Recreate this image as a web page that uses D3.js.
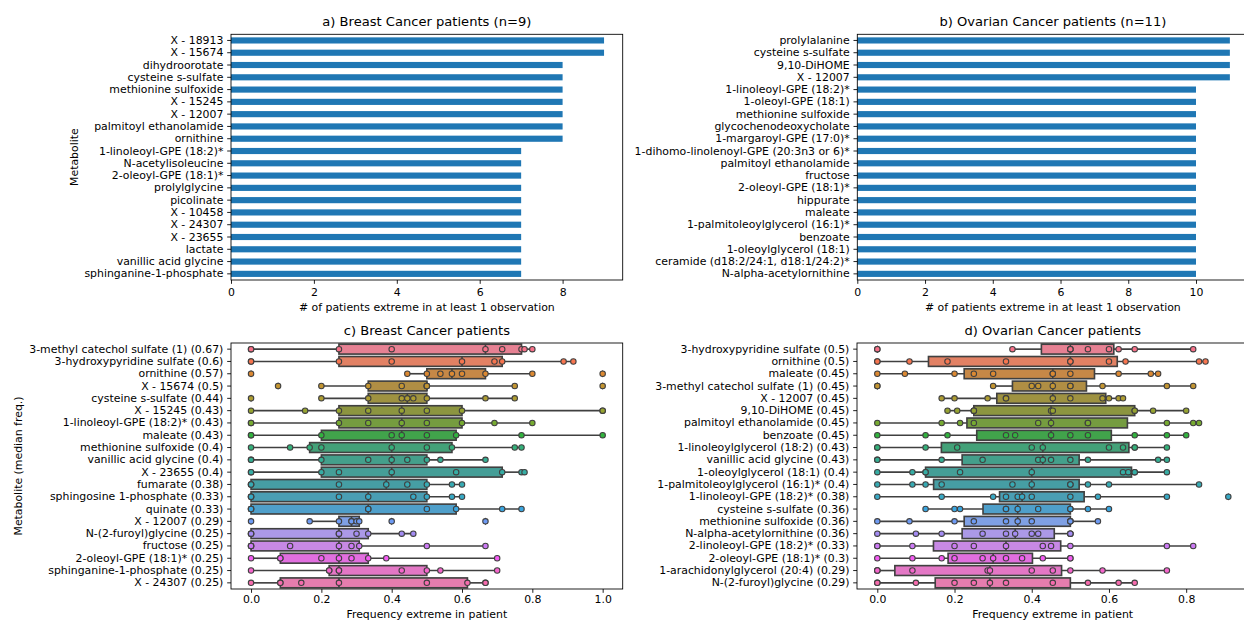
<!DOCTYPE html>
<html>
<head>
<meta charset="utf-8">
<script src="https://cdn.jsdelivr.net/npm/d3@7"></script>
<style>
  body { margin: 0; background: #fff; }
  svg { display: block; }
  text { font-family: "DejaVu Sans", sans-serif; fill: #000; }
</style>
</head>
<body>
<svg id="fig" width="1244" height="623"></svg>
<script>
// ---------------- data ----------------
// a) breast cancer: number of patients extreme in at least one observation
const breastTopNames = [
  "X - 18913", "X - 15674", "dihydroorotate", "cysteine s-sulfate", "methionine sulfoxide",
  "X - 15245", "X - 12007", "palmitoyl ethanolamide", "ornithine", "1-linoleoyl-GPE (18:2)*",
  "N-acetylisoleucine", "2-oleoyl-GPE (18:1)*", "prolylglycine", "picolinate", "X - 10458",
  "X - 24307", "X - 23655", "lactate", "vanillic acid glycine", "sphinganine-1-phosphate"
];
const breastTopCounts = [9, 9, 8, 8, 8, 8, 8, 8, 8, 7, 7, 7, 7, 7, 7, 7, 7, 7, 7, 7];

// b) ovarian cancer
const ovarianTopNames = [
  "prolylalanine", "cysteine s-sulfate", "9,10-DiHOME", "X - 12007", "1-linoleoyl-GPE (18:2)*",
  "1-oleoyl-GPE (18:1)", "methionine sulfoxide", "glycochenodeoxycholate", "1-margaroyl-GPE (17:0)*",
  "1-dihomo-linolenoyl-GPE (20:3n3 or 6)*", "palmitoyl ethanolamide", "fructose", "2-oleoyl-GPE (18:1)*",
  "hippurate", "maleate", "1-palmitoleoylglycerol (16:1)*", "benzoate", "1-oleoylglycerol (18:1)",
  "ceramide (d18:2/24:1, d18:1/24:2)*", "N-alpha-acetylornithine"
];
const ovarianTopCounts = [11, 11, 11, 11, 10, 10, 10, 10, 10, 10, 10, 10, 10, 10, 10, 10, 10, 10, 10, 10];

// c) breast cancer: per-patient frequency of extreme observations (9 patients)
const breastFreqNames = [
  "3-methyl catechol sulfate (1)", "3-hydroxypyridine sulfate", "ornithine", "X - 15674",
  "cysteine s-sulfate", "X - 15245", "1-linoleoyl-GPE (18:2)*", "maleate", "methionine sulfoxide",
  "vanillic acid glycine", "X - 23655", "fumarate", "sphingosine 1-phosphate", "quinate",
  "X - 12007", "N-(2-furoyl)glycine", "fructose", "2-oleoyl-GPE (18:1)*", "sphinganine-1-phosphate",
  "X - 24307"
];
const breastFreqValues = [
  [0, 0, 0.25, 0.4, 0.6667, 0.7143, 0.7692, 0.7778, 0.8],
  [0, 0, 0.25, 0.4, 0.6, 0.6923, 0.7143, 0.8889, 0.9167],
  [0, 0.4444, 0.5, 0.5385, 0.5714, 0.6, 0.6667, 0.8, 1],
  [0.0769, 0.2, 0.3333, 0.4286, 0.5, 0.5, 0.5, 0.75, 1],
  [0, 0.2, 0.3333, 0.4286, 0.4444, 0.4615, 0.5, 0.6667, 0.75],
  [0, 0.1538, 0.25, 0.3333, 0.4286, 0.5, 0.6, 1, 1],
  [0, 0, 0.25, 0.3333, 0.4286, 0.5, 0.6, 0.6923, 0.8],
  [0, 0, 0.2, 0.4, 0.4286, 0.5, 0.5833, 0.7692, 1],
  [0, 0.1111, 0.1667, 0.2, 0.4, 0.5, 0.5714, 0.75, 0.7692],
  [0, 0, 0.2, 0.3333, 0.4, 0.4444, 0.5, 0.5385, 0.6667],
  [0, 0, 0.2, 0.25, 0.4, 0.5833, 0.7143, 0.7692, 0.7778],
  [0, 0, 0, 0.25, 0.3846, 0.4444, 0.5, 0.5714, 0.6],
  [0, 0, 0, 0.25, 0.3333, 0.4615, 0.5, 0.5714, 0.6],
  [0, 0, 0, 0.3333, 0.3333, 0.5, 0.5833, 0.7143, 0.7692],
  [0, 0.1667, 0.25, 0.2857, 0.2857, 0.3, 0.3077, 0.4, 0.6667],
  [0, 0, 0, 0.25, 0.25, 0.3, 0.3333, 0.4286, 0.4615],
  [0, 0, 0, 0.1111, 0.25, 0.2857, 0.3077, 0.5, 0.6667],
  [0, 0.0833, 0.0833, 0.2, 0.25, 0.2857, 0.3333, 0.3846, 0.7],
  [0, 0.2222, 0.2222, 0.25, 0.25, 0.4286, 0.5, 0.5385, 0.7],
  [0, 0.0833, 0.0833, 0.1429, 0.25, 0.5, 0.6154, 0.6667, 0.6667]
];

// d) ovarian cancer (11 patients)
const ovarianFreqNames = [
  "3-hydroxypyridine sulfate", "ornithine", "maleate", "3-methyl catechol sulfate (1)", "X - 12007",
  "9,10-DiHOME", "palmitoyl ethanolamide", "benzoate", "1-linoleoylglycerol (18:2)",
  "vanillic acid glycine", "1-oleoylglycerol (18:1)", "1-palmitoleoylglycerol (16:1)*",
  "1-linoleoyl-GPE (18:2)*", "cysteine s-sulfate", "methionine sulfoxide", "N-alpha-acetylornithine",
  "2-linoleoyl-GPE (18:2)*", "2-oleoyl-GPE (18:1)*", "1-arachidonylglycerol (20:4)", "N-(2-furoyl)glycine"
];
const ovarianFreqValues = [
  [0, 0, 0.35, 0.5, 0.5, 0.5, 0.5455, 0.6, 0.625, 0.6667, 0.8182],
  [0, 0, 0.0833, 0.1818, 0.3333, 0.5, 0.5, 0.6, 0.6429, 0.8333, 0.85],
  [0, 0.0714, 0.2, 0.25, 0.3, 0.4545, 0.4545, 0.5, 0.625, 0.7083, 0.7273],
  [0, 0, 0.3, 0.4, 0.4167, 0.4545, 0.5, 0.5, 0.5833, 0.75, 0.8182],
  [0.1667, 0.2, 0.2857, 0.3333, 0.3333, 0.4545, 0.5, 0.5833, 0.6, 0.625, 0.6364],
  [0.1818, 0.2069, 0.25, 0.25, 0.25, 0.45, 0.4545, 0.6667, 0.6667, 0.7143, 0.8],
  [0, 0.1667, 0.2143, 0.25, 0.4167, 0.45, 0.5455, 0.5455, 0.75, 0.8182, 0.8333],
  [0, 0.125, 0.1818, 0.3333, 0.3571, 0.45, 0.5, 0.5455, 0.6667, 0.75, 0.8],
  [0, 0, 0.125, 0.2069, 0.4, 0.4286, 0.6, 0.6364, 0.6667, 0.6667, 0.75],
  [0, 0, 0.1667, 0.2727, 0.4167, 0.4286, 0.45, 0.5, 0.5455, 0.7273, 0.75],
  [0, 0.0909, 0.125, 0.125, 0.2143, 0.4, 0.6364, 0.65, 0.6667, 0.6667, 0.75],
  [0, 0.0909, 0.125, 0.1667, 0.35, 0.4, 0.5, 0.5, 0.5455, 0.6, 0.8333],
  [0, 0.1667, 0.3, 0.3333, 0.3636, 0.375, 0.4, 0.5, 0.5714, 0.75, 0.9091],
  [0.125, 0.2, 0.2143, 0.3333, 0.3333, 0.3636, 0.4167, 0.5, 0.5, 0.5455, 0.6],
  [0, 0.0833, 0.2, 0.25, 0.3333, 0.3636, 0.4, 0.5, 0.5, 0.5, 0.5714],
  [0, 0.1, 0.1667, 0.2727, 0.3333, 0.3571, 0.4, 0.4167, 0.5, 0.5, 0.5],
  [0, 0, 0.0909, 0.2, 0.25, 0.3333, 0.4286, 0.45, 0.5, 0.75, 0.8182],
  [0, 0.0909, 0.1667, 0.2, 0.2727, 0.3, 0.3333, 0.375, 0.4286, 0.5, 0.5],
  [0, 0, 0, 0.0909, 0.2857, 0.2917, 0.4, 0.4545, 0.5, 0.5833, 0.75],
  [0, 0, 0.1, 0.2, 0.25, 0.2917, 0.3333, 0.4545, 0.5455, 0.625, 0.6667]
];

const countTicksA = [0, 2, 4, 6, 8];
const countTicksB = [0, 2, 4, 6, 8, 10];
const freqTicksC = [0, 0.2, 0.4, 0.6, 0.8, 1.0];
const freqTicksD = [0, 0.2, 0.4, 0.6, 0.8];

const titles = [
  "a) Breast Cancer patients (n=9)", "b) Ovarian Cancer patients (n=11)",
  "c) Breast Cancer patients", "d) Ovarian Cancer patients"
];
const countLabel = "# of patients extreme in at least 1 observation";
const freqLabel = "Frequency extreme in patient";

// ---------------- colours (husl palette, as seaborn builds it) ----------------
const M = [[3.2406, -1.5372, -0.4986], [-0.9689, 1.8758, 0.0415], [0.0557, -0.2040, 1.0570]];
const refU = 0.19784, refV = 0.46834, labE = 0.008856, labK = 903.3;

function maxChroma(L, H) {
  const hr = H * Math.PI / 180, sinH = Math.sin(hr), cosH = Math.cos(hr);
  const sub1 = Math.pow(L + 16, 3) / 1560896;
  const sub2 = sub1 > labE ? sub1 : L / labK;
  let result = Infinity;
  for (const [m1, m2, m3] of M) {
    const top = (0.99915 * m1 + 1.05122 * m2 + 1.14460 * m3) * sub2;
    const rb = 0.86330 * m3 - 0.17266 * m2;
    const lb = 0.12949 * m3 - 0.38848 * m1;
    const bottom = (rb * sinH + lb * cosH) * sub2;
    for (const t of [0, 1]) {
      const C = L * (top - 1.05122 * t) / (bottom + 0.17266 * sinH * t);
      if (C > 0 && C < result) result = C;
    }
  }
  return result;
}

function huslToRgb(H, S, L) {
  const C = maxChroma(L, H) / 100 * S;
  const hr = H * Math.PI / 180;
  const U = Math.cos(hr) * C, V = Math.sin(hr) * C;
  const t = (L + 16) / 116;
  const Y = t * t * t > labE ? t * t * t : (116 * t - 16) / labK;
  const vu = U / (13 * L) + refU, vv = V / (13 * L) + refV;
  const X = -(9 * Y * vu) / ((vu - 4) * vv - vu * vv);
  const Z = (9 * Y - 15 * vv * Y - vv * X) / (3 * vv);
  return M.map(r => r[0] * X + r[1] * Y + r[2] * Z)
    .map(c => c <= 0.0031308 ? 12.92 * c : 1.055 * Math.pow(c, 1 / 2.4) - 0.055)
    .map(c => Math.min(1, Math.max(0, c)));
}

function huslPalette(n, h = 0.01, s = 0.9, l = 0.65) {
  return d3.range(n).map(i => {
    const hue = ((i / n + h) % 1) * 359;
    const [r, g, b] = huslToRgb(hue, s * 99, l * 99);
    return d3.rgb(r * 255, g * 255, b * 255);
  });
}

function desaturate(c, prop) {
  const h = d3.hsl(c);
  h.s *= prop;
  return d3.rgb(h);
}

function frameGray(cols) {
  const lum = d3.min(cols, c => (Math.max(c.r, c.g, c.b) + Math.min(c.r, c.g, c.b)) / 2 / 255) * 0.6;
  const v = Math.round(lum * 255);
  return d3.rgb(v, v, v).formatHex();
}

// ---------------- layout ----------------
const PT = 1.09;               // pixels per point
const FS = 10 * PT;            // tick / axis label size
const FS_TITLE = 12 * PT;
const TICK = 3.5 * PT;

const svg = d3.select("#fig");
svg.append("rect").attr("width", 1244).attr("height", 623).attr("fill", "#fff");

const boxes = {
  a: { left: 231, right: 622.7, top: 34.3, bottom: 280, xlim: [0, 9.45] },
  b: { left: 857.3, right: 1248.5, top: 34.3, bottom: 280, xlim: [0, 11.55] },
  c: { left: 231, right: 622.7, top: 343, bottom: 589, xlim: [-0.057, 1.057] },
  d: { left: 857, right: 1248.5, top: 343, bottom: 589, xlim: [-0.0526, 0.9614] }
};

function fmtMedian(m) { return String(+m.toFixed(2)); }

function styleAxis(g) {
  g.select(".domain").remove();
  g.selectAll(".tick line").attr("stroke", "#000").attr("stroke-width", 0.8 * PT);
  g.selectAll(".tick text").attr("font-size", FS).attr("font-family", "DejaVu Sans").attr("fill", "#000");
}

function drawPanel(p, names, title, xTicks, xFmt, xLabel, yLabel, tickDy, labelDy) {
  const x = d3.scaleLinear().domain(p.xlim).range([p.left, p.right]);
  const y = d3.scaleBand().domain(names).range([p.top, p.bottom]).paddingInner(0).paddingOuter(0);
  const g = svg.append("g");

  const marks = g.append("g");

  const gx = g.append("g").attr("transform", `translate(0,${p.bottom})`)
    .call(d3.axisBottom(x).tickValues(xTicks).tickFormat(xFmt).tickSize(TICK).tickPadding(TICK).tickSizeOuter(0));
  styleAxis(gx);
  gx.selectAll(".tick text").attr("dy", null).attr("y", tickDy);

  const gy = g.append("g").attr("transform", `translate(${p.left},0)`)
    .call(d3.axisLeft(y).tickSize(TICK).tickPadding(TICK).tickSizeOuter(0));
  styleAxis(gy);

  // spines
  g.append("rect")
    .attr("x", p.left).attr("y", p.top)
    .attr("width", p.right - p.left).attr("height", p.bottom - p.top)
    .attr("fill", "none").attr("stroke", "#000").attr("stroke-width", 0.8 * PT);

  g.append("text")
    .attr("x", (p.left + p.right) / 2).attr("y", p.top - 8.5)
    .attr("text-anchor", "middle").attr("font-size", FS_TITLE).text(title);

  g.append("text")
    .attr("x", (p.left + p.right) / 2).attr("y", p.bottom + labelDy)
    .attr("text-anchor", "middle").attr("font-size", FS).text(xLabel);

  if (yLabel) {
    let minX = 0;
    gy.selectAll(".tick text").each(function () {
      const b = this.getBBox();
      minX = Math.min(minX, b.x);
    });
    const lx = p.left + minX - 4 * PT - 2.5;
    const ly = (p.top + p.bottom) / 2;
    g.append("text")
      .attr("transform", `translate(${lx},${ly}) rotate(-90)`)
      .attr("text-anchor", "middle").attr("font-size", FS).text(yLabel);
  }
  return { x, y, marks };
}

// ---------------- bar panels ----------------
function drawBars(p, names, counts, title, ticks, yLabel) {
  const { x, y, marks } = drawPanel(p, names, title, ticks, d3.format("d"), countLabel, yLabel, 15.5, 31);
  const bh = y.bandwidth() * 0.5;
  marks.selectAll("rect").data(names).join("rect")
    .attr("x", x(0))
    .attr("y", d => y(d) + (y.bandwidth() - bh) / 2)
    .attr("width", (d, i) => x(counts[i]) - x(0))
    .attr("height", bh)
    .attr("fill", "#1f77b4");
}

drawBars(boxes.a, breastTopNames, breastTopCounts, titles[0], countTicksA, "Metabolite");
drawBars(boxes.b, ovarianTopNames, ovarianTopCounts, titles[1], countTicksB, null);

// ---------------- box + strip panels ----------------
function boxStats(vals) {
  const s = vals.slice().sort(d3.ascending);
  const q1 = d3.quantileSorted(s, 0.25), med = d3.quantileSorted(s, 0.5), q3 = d3.quantileSorted(s, 0.75);
  const iqr = q3 - q1;
  const lo = q1 - 1.5 * iqr, hi = q3 + 1.5 * iqr;
  const inside = s.filter(v => v >= lo && v <= hi);
  return {
    q1, med, q3,
    wlo: d3.min(inside), whi: d3.max(inside),
    fliers: s.filter(v => v < lo || v > hi)
  };
}

function drawBoxes(p, names, values, title, ticks, yLabel) {
  const stats = values.map(boxStats);
  const labels = names.map((n, i) => `${n} (${fmtMedian(stats[i].med)})`);
  const { x, y, marks } = drawPanel(p, labels, title, ticks, d3.format(".1f"), freqLabel, yLabel, 13.5, 29);

  const pal = huslPalette(names.length);
  const boxCols = pal.map(c => desaturate(c, 0.75));
  const grayBox = frameGray(boxCols);
  const grayPts = frameGray(pal);
  const bw = y.bandwidth();
  const cy = l => y(l) + bw / 2;
  const lw = 1.5 * PT;
  const fl = 2.5 * PT;

  const rows = marks.selectAll("g.row").data(labels).join("g").attr("class", "row");

  rows.each(function (lab, i) {
    const r = d3.select(this);
    const st = stats[i];
    const c = cy(lab);
    // whiskers
    r.append("line").attr("x1", x(st.wlo)).attr("x2", x(st.q1)).attr("y1", c).attr("y2", c)
      .attr("stroke", grayBox).attr("stroke-width", lw);
    r.append("line").attr("x1", x(st.q3)).attr("x2", x(st.whi)).attr("y1", c).attr("y2", c)
      .attr("stroke", grayBox).attr("stroke-width", lw);
    // caps
    [st.wlo, st.whi].forEach(v => {
      r.append("line").attr("x1", x(v)).attr("x2", x(v))
        .attr("y1", c - bw * 0.2).attr("y2", c + bw * 0.2)
        .attr("stroke", grayBox).attr("stroke-width", lw);
    });
    // box
    r.append("rect")
      .attr("x", x(st.q1)).attr("y", c - bw * 0.4)
      .attr("width", Math.max(0, x(st.q3) - x(st.q1))).attr("height", bw * 0.8)
      .attr("fill", boxCols[i].formatHex()).attr("stroke", grayBox).attr("stroke-width", lw);
    // median
    r.append("line").attr("x1", x(st.med)).attr("x2", x(st.med))
      .attr("y1", c - bw * 0.4).attr("y2", c + bw * 0.4)
      .attr("stroke", grayBox).attr("stroke-width", lw);
    // fliers (thin diamonds)
    r.selectAll("path.flier").data(st.fliers).join("path").attr("class", "flier")
      .attr("d", v => `M${x(v)},${c - fl}L${x(v) + fl * 0.6},${c}L${x(v)},${c + fl}L${x(v) - fl * 0.6},${c}Z`)
      .attr("fill", grayBox).attr("stroke", grayBox).attr("stroke-width", PT);
  });

  // strip points on top
  rows.each(function (lab, i) {
    d3.select(this).selectAll("circle").data(values[i]).join("circle")
      .attr("cx", v => x(v)).attr("cy", cy(lab)).attr("r", 2.5 * PT)
      .attr("fill", pal[i].formatHex()).attr("stroke", grayPts).attr("stroke-width", PT);
  });
}

drawBoxes(boxes.c, breastFreqNames, breastFreqValues, titles[2], freqTicksC, "Metabolite (median freq.)");
drawBoxes(boxes.d, ovarianFreqNames, ovarianFreqValues, titles[3], freqTicksD, null);
</script>
</body>
</html>
